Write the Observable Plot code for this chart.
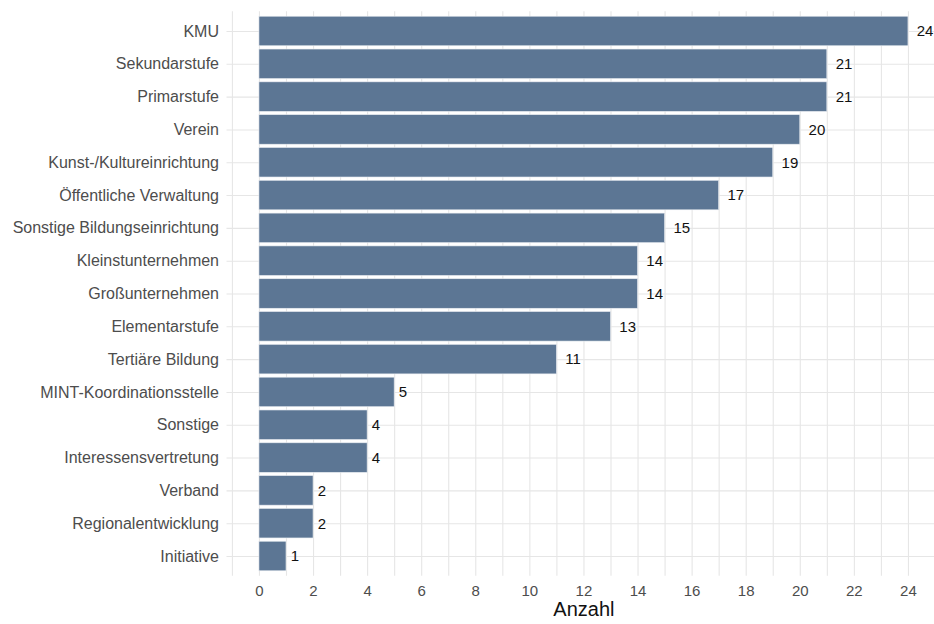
<!DOCTYPE html>
<html><head><meta charset="utf-8">
<script src="https://cdn.jsdelivr.net/npm/d3@7"></script>
<script src="https://cdn.jsdelivr.net/npm/@observablehq/plot@0.6"></script>
<style>body{margin:0;background:#fff;font-family:"Liberation Sans",Arial,sans-serif}</style>
</head><body><div id="chart"></div>
<script>
const categories = ["KMU","Sekundarstufe","Primarstufe","Verein","Kunst-/Kultureinrichtung","Öffentliche Verwaltung","Sonstige Bildungseinrichtung","Kleinstunternehmen","Großunternehmen","Elementarstufe","Tertiäre Bildung","MINT-Koordinationsstelle","Sonstige","Interessensvertretung","Verband","Regionalentwicklung","Initiative"];
const values = [24,21,21,20,19,17,15,14,14,13,11,5,4,4,2,2,1];
const xTicks = [0,2,4,6,8,10,12,14,16,18,20,22,24];
const gridTicks = d3.range(-1, 26);
const xTitle = "Anzahl";
const data = categories.map((c,i)=>({cat:c, value:values[i]}));

const chart = Plot.plot({
  width: 934, height: 624,
  marginLeft: 226.5, marginRight: 0, marginTop: 11.3, marginBottom: 48.3,
  style: {fontFamily: '"Liberation Sans", Arial, sans-serif', background: "#fff", overflow: "visible"},
  x: {domain: [-1.2, 25.2], range: [226.5, 940.4]},
  y: {domain: categories, range: [11.3, 575.7], paddingInner: 0.1, paddingOuter: 0.15, round: false},
  marks: [
    Plot.ruleX(gridTicks, {stroke: "#e6e6e6", strokeWidth: 1.1}),
    Plot.ruleY(categories, {y: d => d, stroke: "#e6e6e6", strokeWidth: 1.1}),
    Plot.barX(data, {x: "value", y: "cat", fill: "#5c7694", stroke: "#e8ecf1", strokeWidth: 0.6}),
    Plot.text(data.filter(d => d.value < 10), {x: "value", y: "cat", text: d => String(d.value), textAnchor: "start", dx: 4.2, fontSize: 15, fill: "#111"}),
    Plot.text(data.filter(d => d.value >= 10), {x: "value", y: "cat", text: d => String(d.value), textAnchor: "start", dx: 8.3, fontSize: 15, fill: "#111"}),
    Plot.axisX({ticks: xTicks, tickSize: 0, tickPadding: 9, fontSize: 15, color: "#4d4d4d", label: null}),
    Plot.axisY({tickSize: 0, tickPadding: 8, fontSize: 16, color: "#4d4d4d", label: null}),
    Plot.text([xTitle], {frameAnchor: "bottom", x: 12, dy: 40, text: d => d, fontSize: 20, fill: "#111"})
  ]
});
document.getElementById("chart").appendChild(chart);
</script></body></html>
